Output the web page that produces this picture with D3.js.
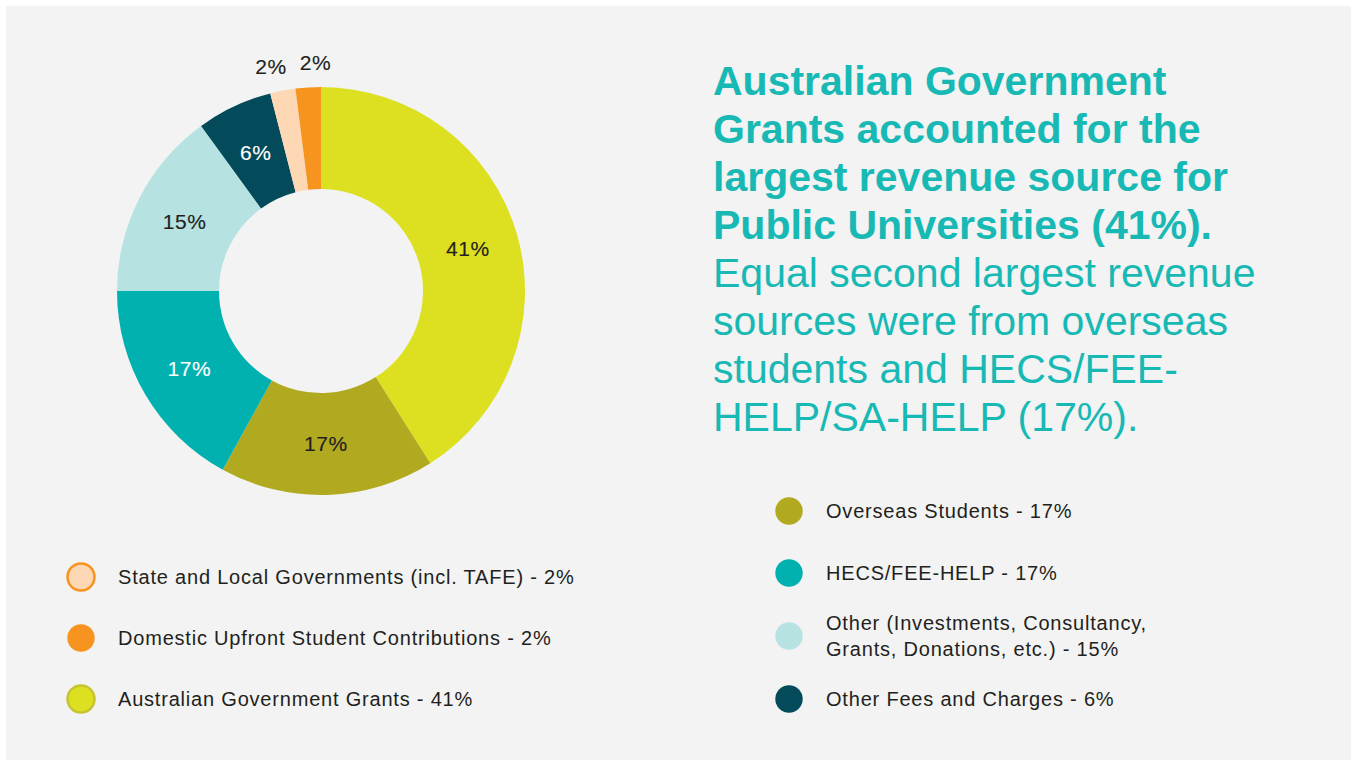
<!DOCTYPE html>
<html>
<head>
<meta charset="utf-8">
<script src="https://cdn.jsdelivr.net/npm/d3@7"></script>
<style>
  html, body { margin: 0; padding: 0; background: #ffffff; }
  svg { display: block; font-family: "Liberation Sans", Arial, Helvetica, sans-serif; }
</style>
</head>
<body>
<svg id="chart" width="1357" height="760"></svg>
<script>
// Revenue sources for Public Universities, in drawing order (clockwise from 12 o'clock)
const categories = [
  "Australian Government Grants",
  "Overseas Students",
  "HECS/FEE-HELP",
  "Other (Investments, Consultancy, Grants, Donations, etc.)",
  "Other Fees and Charges",
  "State and Local Governments (incl. TAFE)",
  "Domestic Upfront Student Contributions"
];
const shares = [41, 17, 17, 15, 6, 2, 2];
const sliceColors = ["#dde021", "#b1aa21", "#00b1b0", "#b7e2e2", "#034b5a", "#fed8b4", "#f7941f"];
const labelColors = ["#231f20", "#231f20", "#ffffff", "#231f20", "#ffffff", "#231f20", "#231f20"];

// Legend columns (indexes into categories) and legend text lines
const legendLeft = [5, 6, 0];
const legendRight = [1, 2, 3, 4];
const legendText = [
  ["Australian Government Grants - 41%"],
  ["Overseas Students - 17%"],
  ["HECS/FEE-HELP - 17%"],
  ["Other (Investments, Consultancy,", "Grants, Donations, etc.) - 15%"],
  ["Other Fees and Charges - 6%"],
  ["State and Local Governments (incl. TAFE) - 2%"],
  ["Domestic Upfront Student Contributions - 2%"]
];
const legendStroke = ["#c6c430", null, null, null, null, "#f7941f", null];

const headlineBold = [
  "Australian Government",
  "Grants accounted for the",
  "largest revenue source for",
  "Public Universities (41%)."
];
const headlineRegular = [
  "Equal second largest revenue",
  "sources were from overseas",
  "students and HECS/FEE-",
  "HELP/SA-HELP (17%)."
];

const svg = d3.select("#chart");

// Panel background
svg.append("rect")
  .attr("x", 6).attr("y", 6)
  .attr("width", 1345).attr("height", 760)
  .attr("fill", "#f2f3f2");

// Donut
const cx = 321, cy = 291, rOuter = 204, rInner = 102;
const pie = d3.pie().sort(null).value(d => d);
const arcs = pie(shares);
const arc = d3.arc().innerRadius(rInner).outerRadius(rOuter);
const outerLabelArc = d3.arc().innerRadius(229).outerRadius(229);

const g = svg.append("g").attr("transform", `translate(${cx},${cy})`);

g.selectAll("path.slice")
  .data(arcs)
  .join("path")
  .attr("class", "slice")
  .attr("d", arc)
  .attr("fill", (d, i) => sliceColors[i]);

// Small slices get their labels outside the ring, spread apart horizontally
const isOutside = d => (d.endAngle - d.startAngle) < 0.2;
const outsideArcs = arcs.filter(isOutside);
const outsideMidX = d3.mean(outsideArcs, d => outerLabelArc.centroid(d)[0]);

g.selectAll("text.value")
  .data(arcs)
  .join("text")
  .attr("class", "value")
  .attr("transform", d => {
    if (isOutside(d)) {
      const [x, y] = outerLabelArc.centroid(d);
      const spread = x < outsideMidX ? -7 : 9;
      return `translate(${x + spread},${y})`;
    }
    const [x, y] = arc.centroid(d);
    return `translate(${x},${y})`;
  })
  .attr("text-anchor", "middle")
  .attr("dominant-baseline", "central")
  .attr("font-size", 21)
  .attr("letter-spacing", 0.6)
  .attr("stroke", (d, i) => labelColors[i])
  .attr("stroke-width", 0.15)
  .attr("fill", (d, i) => labelColors[i])
  .text((d, i) => shares[i] + "%");

// Headline
const head = svg.append("text")
  .attr("x", 713)
  .attr("font-size", 41)
  .attr("fill", "#18b9b5");
headlineBold.forEach((line, i) => {
  head.append("tspan")
    .attr("x", 713).attr("y", 95 + i * 48)
    .attr("font-weight", "bold")
    .text(line);
});
headlineRegular.forEach((line, i) => {
  head.append("tspan")
    .attr("x", 713).attr("y", 95 + (headlineBold.length + i) * 48)
    .text(line);
});

// Legends
function drawLegend(items, x, ys) {
  const lg = svg.append("g");
  items.forEach((idx, k) => {
    const y = ys[k];
    const stroke = legendStroke[idx];
    lg.append("circle")
      .attr("cx", x).attr("cy", y)
      .attr("r", stroke ? 13.5 : 13.7)
      .attr("fill", sliceColors[idx])
      .attr("stroke", stroke || "none")
      .attr("stroke-width", stroke ? 2.5 : 0);
    const lines = legendText[idx];
    const t = lg.append("text")
      .attr("font-size", 20)
      .attr("letter-spacing", 0.8)
      .attr("fill", "#231f20");
    lines.forEach((ln, j) => {
      t.append("tspan")
        .attr("x", x + 37)
        .attr("y", y + 7 + (j - (lines.length - 1) / 2) * 26)
        .text(ln);
    });
  });
}
drawLegend(legendLeft, 81, [577, 638, 699]);
drawLegend(legendRight, 789, [511, 573, 636, 699]);
</script>
</body>
</html>
